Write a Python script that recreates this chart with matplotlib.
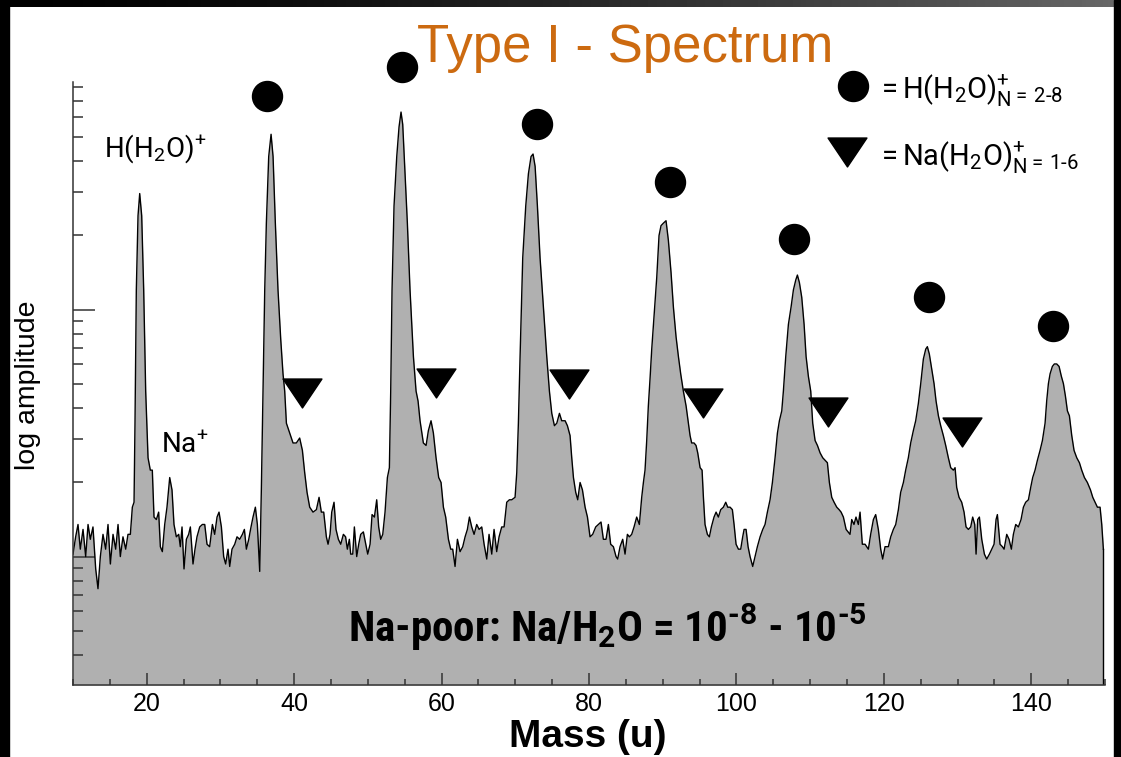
import numpy as np
import matplotlib
matplotlib.use("Agg")
import matplotlib.pyplot as plt
from matplotlib.path import Path
from matplotlib.patches import Rectangle
from matplotlib.ticker import LogLocator, MultipleLocator, NullFormatter

# spectrum trace: mass (u) and log10 amplitude (arb. units)
mass = [
    10.00, 10.36, 10.68, 10.99, 11.36, 11.72, 12.04, 12.35,
    12.71, 13.08, 13.39, 13.71, 14.07, 14.43, 14.75, 15.07,
    15.43, 15.79, 16.11, 16.42, 16.78, 17.15, 17.46, 17.78,
    18.05, 18.28, 18.41, 18.59, 18.82, 19.05, 19.32, 19.59,
    19.86, 20.18, 20.49, 20.76, 20.99, 21.31, 21.62, 21.85,
    22.12, 22.44, 22.75, 23.12, 23.43, 23.70, 24.02, 24.34,
    24.56, 24.79, 25.06, 25.38, 25.69, 25.92, 26.28, 26.55,
    26.82, 27.19, 27.55, 27.87, 28.18, 28.54, 28.91, 29.22,
    29.54, 29.81, 30.13, 30.44, 30.71, 31.03, 31.26, 31.57,
    31.94, 32.25, 32.61, 32.98, 33.25, 33.52, 33.84, 34.15,
    34.42, 34.74, 35.01, 35.33, 35.55, 35.78, 36.01, 36.23,
    36.55, 36.87, 37.14, 37.45, 37.81, 38.18, 38.49, 38.72,
    38.95, 39.40, 39.85, 40.30, 40.75, 41.12, 41.43, 41.75,
    42.11, 42.56, 43.02, 43.38, 43.69, 44.01, 44.37, 44.60,
    44.87, 45.10, 45.41, 45.68, 46.00, 46.32, 46.68, 46.98,
    47.22, 47.49, 47.67, 47.95, 48.17, 48.49, 48.76, 49.03,
    49.39, 49.71, 49.98, 50.30, 50.57, 50.89, 51.20, 51.47,
    51.74, 52.02, 52.33, 52.65, 52.92, 53.10, 53.28, 53.55,
    53.92, 54.23, 54.50, 54.73, 55.05, 55.36, 55.72, 56.18,
    56.54, 56.81, 57.08, 57.53, 57.90, 58.21, 58.57, 58.89,
    59.25, 59.61, 59.93, 60.25, 60.56, 60.93, 61.24, 61.51,
    61.83, 62.15, 62.51, 62.87, 63.19, 63.50, 63.78, 64.09,
    64.41, 64.77, 65.09, 65.45, 65.77, 66.13, 66.44, 66.81,
    67.12, 67.48, 67.80, 68.16, 68.48, 68.84, 69.20, 69.52,
    69.97, 70.20, 70.42, 70.65, 71.01, 71.42, 71.78, 72.14,
    72.41, 72.69, 73.00, 73.36, 73.82, 74.27, 74.63, 74.95,
    75.31, 75.63, 75.99, 76.30, 76.76, 77.07, 77.43, 77.66,
    77.89, 78.20, 78.47, 78.79, 79.11, 79.47, 79.79,
    80.14, 80.50, 80.91, 81.27, 81.63, 81.95, 82.31, 82.63,
    82.94, 83.31, 83.67, 83.89, 84.21, 84.57, 84.89, 85.21,
    85.48, 85.79, 86.11, 86.47, 86.83, 87.15, 87.38, 87.60,
    87.83, 88.05, 88.28, 88.51, 88.82, 89.19, 89.50, 89.77,
    90.09, 90.45, 90.77, 91.13, 91.45, 91.81, 92.13, 92.44,
    92.80, 93.17, 93.48, 93.71, 93.93, 94.25, 94.52, 94.75,
    95.07, 95.34, 95.52, 95.74, 96.06, 96.33, 96.60, 96.96,
    97.24, 97.55, 97.87, 98.23, 98.55, 98.82, 99.14, 99.45,
    99.68, 99.95, 100.27, 100.58, 100.85, 101.04, 101.31, 101.58,
    101.85, 102.21, 102.53, 102.84, 103.21, 103.57, 103.88, 104.20,
    104.56, 104.88, 105.24, 105.56, 105.83, 106.15, 106.37, 106.69,
    107.05, 107.41, 107.73, 108.05, 108.27, 108.54, 108.86, 109.18,
    109.45, 109.76, 110.08, 110.35, 110.67, 110.99, 111.35, 111.71,
    112.03, 112.34, 112.61, 112.93, 113.25, 113.61, 113.93, 114.20,
    114.51, 114.88,
    115.41, 115.64, 115.95, 116.22, 116.54, 116.77, 117.08, 117.45,
    117.90, 118.21, 118.58, 118.89, 119.25, 119.57, 119.84, 120.16,
    120.61, 120.93, 121.29, 121.61, 121.97, 122.28, 122.65, 122.96,
    123.32, 123.64, 124.00, 124.32, 124.68, 125.00, 125.36, 125.68,
    125.90, 126.17, 126.49, 126.81, 127.08, 127.40, 127.71, 128.07,
    128.39, 128.75, 129.07, 129.43, 129.66, 129.88, 130.20, 130.56,
    130.88, 131.15, 131.47, 131.78, 132.05, 132.33, 132.51, 132.73,
    132.96, 133.28, 133.64, 133.95, 134.32, 134.63, 134.95, 135.22,
    135.40, 135.76, 136.08, 136.31, 136.67, 136.98, 137.30, 137.57,
    137.89, 138.25, 138.61, 138.93, 139.24, 139.61, 139.92, 140.19,
    140.51, 140.83, 141.19, 141.51, 141.87, 142.09, 142.32, 142.55,
    142.86, 143.13, 143.45, 143.77, 144.08, 144.36, 144.63, 144.90,
    145.17, 145.49, 145.80, 146.17, 146.53, 146.84, 147.21, 147.61,
    148.03, 148.34, 148.65, 148.97, 149.33, 149.56, 149.78,
]
log_amp = [
    0.01, 0.08, 0.13, 0.03, 0.11, 0.00, 0.13, 0.07,
    0.12, -0.05, -0.13, 0.00, 0.09, 0.03, 0.13, -0.03,
    0.09, 0.03, 0.13, 0.00, 0.08, 0.03, 0.09, 0.09,
    0.20, 0.22, 0.54, 1.08, 1.38, 1.47, 1.38, 1.08,
    0.67, 0.40, 0.35, 0.35, 0.16, 0.15, 0.18, 0.04,
    0.02, 0.13, 0.20, 0.32, 0.27, 0.13, 0.08, 0.09,
    0.04, 0.12, -0.05, 0.07, 0.09, 0.12, -0.03, 0.03,
    0.08, 0.12, 0.13, 0.13, 0.05, 0.04, 0.13, 0.09,
    0.16, 0.18, 0.12, 0.00, -0.03, 0.03, -0.04, 0.03,
    0.05, 0.08, 0.07, 0.09, 0.11, 0.03, 0.07, 0.12,
    0.16, 0.20, 0.13, -0.06, 0.27, 0.67, 1.08, 1.35,
    1.62, 1.71, 1.62, 1.35, 1.08, 0.88, 0.74, 0.67,
    0.54, 0.50, 0.46, 0.46, 0.48, 0.43, 0.34, 0.26,
    0.20, 0.18, 0.19, 0.24, 0.18, 0.18, 0.08, 0.05,
    0.09, 0.18, 0.22, 0.11, 0.07, 0.05, 0.09, 0.08,
    0.03, 0.07, 0.01, 0.01, 0.12, 0.00, 0.05, 0.09,
    0.10, 0.05, 0.01, 0.05, 0.17, 0.16, 0.23, 0.12,
    0.07, 0.09, 0.18, 0.32, 0.36, 0.67, 1.08, 1.42,
    1.62, 1.74, 1.80, 1.75, 1.55, 1.35, 1.08, 0.81,
    0.67, 0.63, 0.55, 0.46, 0.45, 0.51, 0.55, 0.50,
    0.40, 0.32, 0.30, 0.20, 0.16, 0.07, 0.03, 0.03,
    -0.04, 0.07, 0.02, 0.04, 0.08, 0.11, 0.16, 0.12,
    0.09, 0.13, 0.11, 0.12, 0.05, -0.01, 0.09, 0.01,
    0.11, 0.02, 0.08, 0.12, 0.12, 0.22, 0.23, 0.23,
    0.24, 0.34, 0.54, 0.81, 1.21, 1.42, 1.55, 1.62,
    1.63, 1.58, 1.42, 1.21, 1.01, 0.81, 0.67, 0.58,
    0.53, 0.54, 0.58, 0.55, 0.55, 0.53, 0.49, 0.40,
    0.32, 0.26, 0.23, 0.30, 0.27, 0.20, 0.16,
    0.08, 0.09, 0.12, 0.13, 0.14, 0.07, 0.07, 0.13,
    0.05, 0.04, 0.00, -0.01, 0.04, 0.07, 0.01, 0.09,
    0.08, 0.09, 0.12, 0.16, 0.13, 0.24, 0.30, 0.35,
    0.47, 0.61, 0.72, 0.84, 0.97, 1.13, 1.30, 1.34,
    1.35, 1.36, 1.28, 1.15, 1.01, 0.89, 0.81, 0.74,
    0.67, 0.61, 0.54, 0.49, 0.46, 0.46, 0.45, 0.42,
    0.36, 0.35, 0.24, 0.13, 0.09, 0.08, 0.12, 0.16,
    0.18, 0.16, 0.19, 0.20, 0.22, 0.20, 0.20, 0.19,
    0.13, 0.05, 0.03, 0.03, 0.08, 0.11, 0.11, 0.04,
    0.00, -0.04, 0.00, 0.04, 0.08, 0.11, 0.13, 0.18,
    0.23, 0.30, 0.40, 0.50, 0.55, 0.59, 0.67, 0.81,
    0.94, 1.01, 1.08, 1.12, 1.14, 1.11, 1.05, 0.94,
    0.81, 0.73, 0.67, 0.54, 0.47, 0.45, 0.42, 0.40,
    0.39, 0.38, 0.30, 0.24, 0.22, 0.20, 0.19, 0.18,
    0.16, 0.11,
    0.09, 0.15, 0.13, 0.16, 0.13, 0.18, 0.05, 0.05,
    0.03, 0.09, 0.15, 0.17, 0.11, 0.03, -0.01, 0.04,
    0.04, 0.08, 0.11, 0.13, 0.19, 0.26, 0.30, 0.35,
    0.40, 0.46, 0.51, 0.55, 0.62, 0.70, 0.80, 0.84,
    0.85, 0.82, 0.76, 0.70, 0.63, 0.57, 0.53, 0.49,
    0.45, 0.40, 0.36, 0.35, 0.36, 0.28, 0.24, 0.22,
    0.18, 0.12, 0.11, 0.12, 0.16, 0.13, 0.01, 0.15,
    0.16, 0.07, 0.01, -0.01, 0.01, 0.03, 0.05, 0.15,
    0.17, 0.05, 0.04, 0.03, 0.09, 0.07, 0.03, 0.09,
    0.13, 0.12, 0.15, 0.20, 0.22, 0.23, 0.28, 0.32,
    0.35, 0.39, 0.43, 0.47, 0.54, 0.63, 0.70, 0.74,
    0.77, 0.78, 0.78, 0.77, 0.73, 0.70, 0.65, 0.59,
    0.57, 0.49, 0.43, 0.40, 0.38, 0.35, 0.32, 0.30,
    0.27, 0.24, 0.22, 0.20, 0.20, 0.13, 0.03,
]
assert len(mass) == len(log_amp)

# marker positions: protonated water clusters (circles), sodium-water clusters (triangles)
h_cluster_mass = [36.3, 54.6, 73.0, 91.0, 107.8, 126.1, 143.0]
h_cluster_log = [1.865, 1.983, 1.752, 1.517, 1.286, 1.051, 0.934]
na_cluster_mass = [41.1, 59.3, 77.3, 95.5, 112.4, 130.6]
na_cluster_log = [0.661, 0.701, 0.699, 0.622, 0.584, 0.505]

x_ticks = [20, 40, 60, 80, 100, 120, 140]

W, H = 1121, 757
# condensed face if the system has one, otherwise plain Roboto
narrow = ["Liberation Sans Narrow", "Roboto Condensed", "Roboto", "DejaVu Sans"]
plt.rcParams["font.family"] = ["Liberation Sans", "DejaVu Sans"]
plt.rcParams["mathtext.fontset"] = "custom"
plt.rcParams["mathtext.rm"] = "Roboto:stretch=condensed"
plt.rcParams["mathtext.it"] = "Roboto:stretch=condensed"
plt.rcParams["mathtext.bf"] = "Roboto:bold:stretch=condensed"


def fx(px):
    return px / W


def fy(py):
    return 1 - py / H


fig = plt.figure(figsize=(W / 100, H / 100), dpi=100)
fig.patch.set_facecolor("white")

ax = fig.add_axes([fx(73), fy(685), (1105 - 73) / W, (685 - 82) / H])
ax.set_facecolor("none")

amp = 10 ** np.array(log_amp)
floor = 0.302
ax.fill_between(mass, amp, floor, color="#b0b0b0", lw=0, zorder=1)
ax.plot(mass, amp, color="black", lw=1.0, zorder=2)
ax.plot([mass[-1], mass[-1]], [amp[-1], floor], color="black", lw=1.0, zorder=2)

ax.plot(h_cluster_mass, 10 ** np.array(h_cluster_log), "o", color="black",
        ms=21.6, clip_on=False, zorder=3)
tri = Path([(-1, 0.744), (1, 0.744), (0, -0.744), (-1, 0.744)],
           [Path.MOVETO, Path.LINETO, Path.LINETO, Path.CLOSEPOLY])
ax.plot(na_cluster_mass, 10 ** np.array(na_cluster_log), marker=tri, ls="none",
        color="black", ms=28, clip_on=False, zorder=3)

ax.set_yscale("log")
ax.set_xlim(10, 150)
ax.set_ylim(floor, 83.5)
ax.xaxis.set_major_locator(MultipleLocator(20))
ax.xaxis.set_minor_locator(MultipleLocator(5))
ax.set_xticks(x_ticks)
ax.yaxis.set_major_locator(LogLocator(base=10, numticks=10))
ax.yaxis.set_minor_locator(LogLocator(base=10, subs=np.arange(2, 10), numticks=30))
ax.yaxis.set_major_formatter(NullFormatter())
ax.yaxis.set_minor_formatter(NullFormatter())

for side in ["top", "right"]:
    ax.spines[side].set_visible(False)
for side in ["left", "bottom"]:
    ax.spines[side].set_color("#333333")
    ax.spines[side].set_linewidth(1.1)

ax.tick_params(which="both", direction="in", color="#333333", width=1.1)
ax.tick_params(axis="y", which="major", length=15.8)
ax.tick_params(axis="y", which="minor", length=7.2)
ax.tick_params(axis="x", which="major", length=8.6, labelsize=18, pad=5)
ax.tick_params(axis="x", which="minor", length=4.3)

# legend, drawn by hand like the original slide
ax.plot([0.756], [0.993], "o", color="black", ms=21.6, transform=ax.transAxes, clip_on=False)
ax.plot([0.750], [0.884], marker=tri, ls="none", color="black", ms=28,
        transform=ax.transAxes, clip_on=False)
txt = dict(family=narrow, fontstretch="condensed", va="baseline")
fig.text(fx(876), fy(98), r"$=\mathrm{H(H_2O)_N^{+}}$$_{=\,\text{2-8}}$",
         fontsize=21, **txt)
fig.text(fx(876), fy(165), r"$=\mathrm{Na(H_2O)_N^{+}}$$_{=\,\text{1-6}}$",
         fontsize=21, **txt)

fig.text(fx(104), fy(157), r"$\mathrm{H(H_2O)^{+}}$", fontsize=20, **txt)
fig.text(fx(161), fy(453), r"$\mathrm{Na^{+}}$", fontsize=20, **txt)
fig.text(fx(607), fy(642),
         "Na-poor: Na/H$_\\mathbf{2}$O = 10$^\\mathbf{\u20108}$ - 10$^\\mathbf{\u20105}$",
         fontsize=31, fontweight="bold", ha="center", family=narrow,
         fontstretch="condensed", va="baseline")

fig.text(fx(625), fy(62), "Type I - Spectrum", fontsize=38, color="#cc6a10",
         ha="center", va="baseline")
fig.text(fx(28), fy(385), "log amplitude", fontsize=20.5, rotation=90,
         ha="center", va="center")
fig.text(fx(588), fy(747), "Mass (u)", fontsize=28, fontweight="bold",
         ha="center", va="baseline")

# dark slide frame
fig.patches.append(Rectangle((0, 0), fx(9), 1, transform=fig.transFigure,
                             color="black", zorder=0))
fig.patches.append(Rectangle((fx(1114), 0), fx(7), 1, transform=fig.transFigure,
                             color="black", zorder=0))
band = fig.add_axes([0, fy(7), 1, 7 / H])
band.imshow(np.linspace(0.0, 0.55, 256)[None, :] ** 1.5, cmap="gray", aspect="auto",
            vmin=0, vmax=1)
band.set_axis_off()

fig.savefig("out.png", dpi=100)
